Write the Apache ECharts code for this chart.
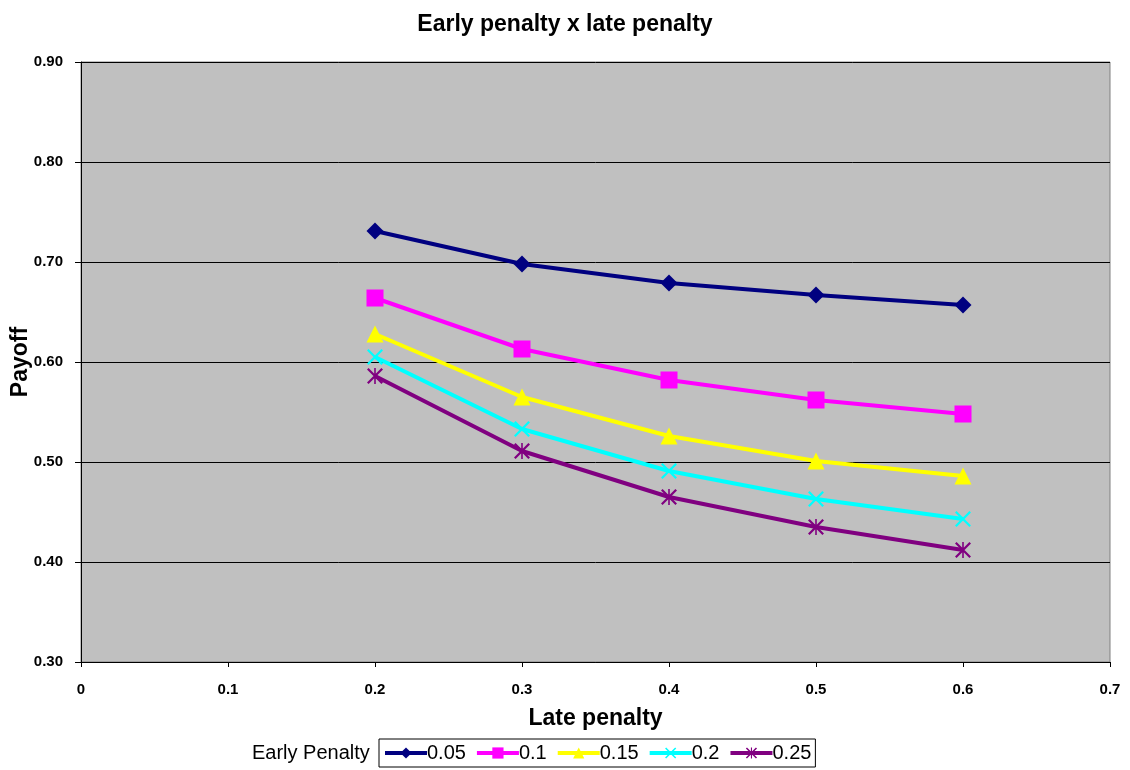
<!DOCTYPE html>
<html><head><meta charset="utf-8">
<script src="https://cdn.jsdelivr.net/npm/echarts@6/dist/echarts.min.js"></script>
<style>html,body{margin:0;padding:0;background:#fff}#c{width:1130px;height:770px}</style>
</head><body><div id="c"></div>
<script>
const latePenalty = [0.2, 0.3, 0.4, 0.5, 0.6];
const seriesNames = ['0.05', '0.1', '0.15', '0.2', '0.25'];
const s005 = [0.731, 0.698, 0.679, 0.667, 0.657];
const s010 = [0.664, 0.613, 0.582, 0.562, 0.548];
const s015 = [0.628, 0.565, 0.526, 0.501, 0.486];
const s020 = [0.605, 0.533, 0.491, 0.463, 0.443];
const s025 = [0.586, 0.511, 0.465, 0.435, 0.412];
const allValues = [s005, s010, s015, s020, s025];
const colors = ['#000080', '#FF00FF', '#FFFF00', '#00FFFF', '#800080'];
const xPath = 'path://M0,1 L1,0 L10,9 L9,10 Z M9,0 L10,1 L1,10 L0,9 Z';
const starPath = 'path://M0,1 L1,0 L10,9 L9,10 Z M9,0 L10,1 L1,10 L0,9 Z M4.5,0 L5.5,0 L5.5,10 L4.5,10 Z';
const symbols = ['diamond', 'rect', 'triangle', xPath, starPath];
const symbolSizes = [17, 17, 17, 16, 16];
const font = '"Liberation Sans", Arial, sans-serif';

const chart = echarts.init(document.getElementById('c'));
chart.setOption({
  animation: false,
  backgroundColor: '#fff',
  title: {
    text: 'Early penalty x late penalty', left: 'center', top: 8,
    textStyle: { fontFamily: font, fontSize: 23, fontWeight: 'bold', color: '#000' }
  },
  grid: {
    left: 81, right: 20, top: 62, bottom: 108, show: true,
    containLabel: false, outerBoundsMode: 'none',
    backgroundColor: '#C0C0C0', borderColor: '#808080', borderWidth: 1
  },
  legend: {
    left: 379, top: 739, orient: 'horizontal',
    borderColor: '#000', borderWidth: 1, padding: [4, 4, 4, 4],
    itemWidth: 42, itemHeight: 14, itemGap: 9,
    lineStyle: { width: 4 },
    textStyle: { fontFamily: font, fontSize: 20, color: '#000', padding: [0, 0, 0, -5] },
    data: seriesNames
  },
  graphic: [{
    type: 'text', left: 252, top: 743,
    style: { text: 'Early Penalty', font: '20px ' + font, fill: '#000' }
  }],
  xAxis: {
    type: 'value', min: 0, max: 0.7, interval: 0.1,
    name: 'Late penalty', nameLocation: 'middle', nameGap: 45,
    nameMoveOverlap: false,
    nameTextStyle: { fontFamily: font, fontSize: 23, fontWeight: 'bold', color: '#000' },
    axisLine: { show: true, lineStyle: { color: '#000', width: 1 } },
    axisTick: { show: true, length: 5, lineStyle: { color: '#000' } },
    splitLine: { show: false },
    axisLabel: {
      fontFamily: font, fontSize: 15, fontWeight: 'bold', color: '#000', margin: 20,
      formatter: v => (Math.round(v * 10) / 10).toString()
    }
  },
  yAxis: {
    type: 'value', min: 0.3, max: 0.9, interval: 0.1,
    name: 'Payoff', nameLocation: 'middle', nameGap: 49,
    nameMoveOverlap: false,
    nameTextStyle: { fontFamily: font, fontSize: 23, fontWeight: 'bold', color: '#000' },
    axisLine: { show: true, lineStyle: { color: '#000', width: 1 } },
    axisTick: { show: true, length: 6, lineStyle: { color: '#000' } },
    splitLine: { show: true, lineStyle: { color: '#000', width: 1 } },
    axisLabel: {
      fontFamily: font, fontSize: 15, fontWeight: 'bold', color: '#000', margin: 18,
      formatter: v => v.toFixed(2)
    }
  },
  series: seriesNames.map((n, i) => ({
    name: n, type: 'line',
    data: latePenalty.map((x, j) => [x, allValues[i][j]]),
    symbol: symbols[i], symbolSize: symbolSizes[i],
    showAllSymbol: true,
    lineStyle: { color: colors[i], width: 4 },
    itemStyle: { color: colors[i], borderColor: colors[i], borderWidth: 0 },
    emphasis: { disabled: true },
    z: 10 - i
  }))
});
</script></body></html>
